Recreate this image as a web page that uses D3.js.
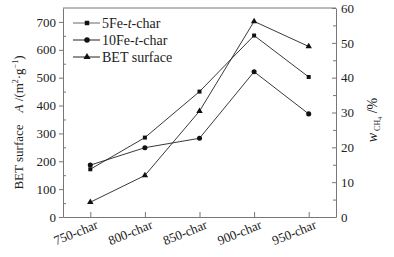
<!DOCTYPE html>
<html>
<head>
<meta charset="utf-8">
<script src="https://cdn.jsdelivr.net/npm/d3@7"></script>
<style>
  body { margin: 0; background: #fff; }
</style>
</head>
<body>
<div id="chart"></div>
<script>
// Data
const categories = ["750-char", "800-char", "850-char", "900-char", "950-char"];
const fe5 = [13.7, 22.8, 36.0, 52.1, 40.2];     // 5Fe-t-char, w CH4 /% (right axis)
const fe10 = [14.9, 19.9, 22.6, 41.7, 29.6];    // 10Fe-t-char, w CH4 /% (right axis)
const bet = [53, 149, 380, 702, 612];           // BET surface, m2/g (left axis)
const leftTicks = [0, 100, 200, 300, 400, 500, 600, 700];
const rightTicks = [0, 10, 20, 30, 40, 50, 60];

const W = 394, H = 257;
const margin = {top: 8, right: 58, bottom: 40, left: 63};
const width = W - margin.left - margin.right;
const height = H - margin.top - margin.bottom;
const axisColor = "#777";
const serif = "'Liberation Serif', 'Times New Roman', serif";

const svg = d3.select("#chart").append("svg")
  .attr("width", W).attr("height", H)
  .style("font-family", serif);
const g = svg.append("g")
  .attr("transform", "translate(" + margin.left + "," + margin.top + ")");

const x = d3.scalePoint().domain(categories).range([0, width]).padding(0.5);
const yL = d3.scaleLinear().domain([0, 750]).range([height, 0]);
const yR = d3.scaleLinear().domain([0, 60]).range([height, 0]);

// top frame line
g.append("line").attr("x1", 0).attr("x2", width).attr("y1", 0).attr("y2", 0)
  .attr("stroke", axisColor);

// left axis: minor ticks inward, major outward
const leftMinor = g.append("g").call(d3.axisLeft(yL).tickValues(d3.range(50, 750, 100)).tickSize(-3).tickFormat(""));
leftMinor.select(".domain").remove();
const leftAxis = g.append("g").call(d3.axisLeft(yL).tickValues(leftTicks).tickSize(4).tickPadding(3).tickSizeOuter(0));

// right axis
const rightMinor = g.append("g").attr("transform", "translate(" + width + ",0)")
  .call(d3.axisRight(yR).tickValues(d3.range(5, 60, 10)).tickSize(-3).tickFormat(""));
rightMinor.select(".domain").remove();
const rightAxis = g.append("g").attr("transform", "translate(" + width + ",0)")
  .call(d3.axisRight(yR).tickValues(rightTicks).tickSize(-4).tickPadding(5).tickSizeOuter(0));

// bottom axis
const bottomAxis = g.append("g").attr("transform", "translate(0," + height + ")")
  .call(d3.axisBottom(x).tickSize(-5).tickSizeOuter(0));
bottomAxis.selectAll("text").remove();
bottomAxis.selectAll(".tick").append("text")
  .attr("transform", "translate(8,11) rotate(-22)")
  .attr("text-anchor", "end")
  .text(d => d);

g.selectAll(".domain, .tick line").attr("stroke", axisColor);
g.selectAll(".tick text")
  .style("font-family", serif).style("font-size", "13px").attr("fill", "#222");

// series
const series = [
  {name: "5Fe", values: fe5, y: yR, marker: "square"},
  {name: "10Fe", values: fe10, y: yR, marker: "circle"},
  {name: "BET", values: bet, y: yL, marker: "triangle"}
];
const symbols = {square: d3.symbolSquare, circle: d3.symbolCircle, triangle: d3.symbolTriangle};
const sizes = {square: 16, circle: 20, triangle: 18};

series.forEach(s => {
  const line = d3.line().x((d, i) => x(categories[i])).y(d => s.y(d));
  g.append("path").datum(s.values)
    .attr("d", line).attr("fill", "none").attr("stroke", "#222").attr("stroke-width", 0.9);
  g.selectAll(".m-" + s.name).data(s.values).join("path")
    .attr("class", "m-" + s.name)
    .attr("transform", (d, i) => "translate(" + x(categories[i]) + "," + s.y(d) + ")")
    .attr("d", d3.symbol().type(symbols[s.marker]).size(sizes[s.marker]))
    .attr("fill", "#111");
});

// legend
const legend = svg.append("g");
const legendItems = [
  {marker: "square", parts: [["5Fe-", false], ["t", true], ["-char", false]]},
  {marker: "circle", parts: [["10Fe-", false], ["t", true], ["-char", false]]},
  {marker: "triangle", parts: [["BET surface", false]]}
];
legendItems.forEach((it, i) => {
  const yy = 23 + i * 17;
  legend.append("line").attr("x1", 73).attr("x2", 100).attr("y1", yy).attr("y2", yy)
    .attr("stroke", i === 0 ? "#666" : "#222");
  legend.append("path").attr("transform", "translate(87," + yy + ")")
    .attr("d", d3.symbol().type(symbols[it.marker]).size(sizes[it.marker] + 4)).attr("fill", "#111");
  const t = legend.append("text").attr("x", 102).attr("y", yy + 5)
    .style("font-family", serif).style("font-size", "14px").attr("fill", "#222");
  it.parts.forEach(p => t.append("tspan").text(p[0]).style("font-style", p[1] ? "italic" : "normal"));
});

// left title, two pieces
svg.append("text")
  .attr("transform", "translate(23,157) rotate(-90)")
  .attr("text-anchor", "middle")
  .style("font-family", serif).style("font-size", "13px").attr("fill", "#222")
  .text("BET surface");
const lt = svg.append("text")
  .attr("transform", "translate(23,84) rotate(-90)")
  .attr("text-anchor", "middle")
  .style("font-family", serif).style("font-size", "13px").attr("fill", "#222");
lt.append("tspan").text("A").style("font-style", "italic");
lt.append("tspan").text(" /(m");
lt.append("tspan").text("2").attr("dy", -5).style("font-size", "8px");
lt.append("tspan").text("\u00b7g").attr("dy", 5);
lt.append("tspan").text("\u22121").attr("dy", -5).style("font-size", "8px");
lt.append("tspan").text(")").attr("dy", 5);

// right title
const rt = svg.append("text")
  .attr("transform", "translate(377,120) rotate(-90)")
  .attr("text-anchor", "middle")
  .style("font-family", serif).style("font-size", "14px").attr("fill", "#222");
rt.append("tspan").text("w").style("font-style", "italic");
rt.append("tspan").text(" CH").attr("dy", 3).style("font-size", "8px");
rt.append("tspan").text("4").attr("dy", 2).style("font-size", "6px");
rt.append("tspan").text(" /%").attr("dy", -5);
</script>
</body>
</html>
